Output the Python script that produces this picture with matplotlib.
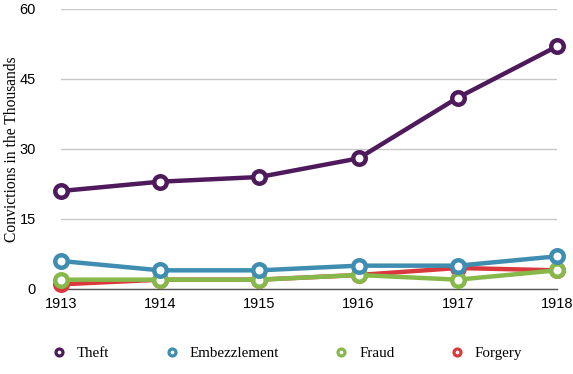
import matplotlib
matplotlib.use("Agg")
import matplotlib.pyplot as plt
from matplotlib.lines import Line2D

years = [1913, 1914, 1915, 1916, 1917, 1918]
theft = [21, 23, 24, 28, 41, 52]
embezzlement = [6, 4, 4, 5, 5, 7]
fraud = [2, 2, 2, 3, 2, 4]
forgery = [1, 2, 2, 3, 4.5, 4]
series_names = ["Theft", "Embezzlement", "Fraud", "Forgery"]
colors = ["#4e1a5c", "#3f8db0", "#86b94a", "#d9383c"]
yticks = [0, 15, 30, 45, 60]

fig = plt.figure(figsize=(5.73, 3.74), dpi=100)
ax = fig.add_axes([61/573, 1-289/374, (557-61)/573, 280/374])

data = {"Theft": theft, "Embezzlement": embezzlement, "Fraud": fraud, "Forgery": forgery}
order = ["Forgery", "Fraud", "Embezzlement", "Theft"]
for name in order:
    c = colors[series_names.index(name)]
    ax.plot(years, data[name], color=c, lw=3.2, marker="o", ms=9,
            mfc="white", mec=c, mew=3.2, clip_on=False, zorder=3)

ax.set_xlim(1913, 1918)
ax.set_ylim(0, 60)
ax.set_yticks(yticks)
ax.set_xticks(years)
ax.grid(axis="y", color="#c8c8c8", lw=1)
ax.set_axisbelow(True)
for s in ["left", "right", "top"]:
    ax.spines[s].set_visible(False)
ax.spines["bottom"].set_color("#555555")
ax.spines["bottom"].set_linewidth(1)
ax.tick_params(length=0, labelsize=10.5, labelfontfamily="Liberation Sans")
ax.tick_params(axis="y", pad=18)
ax.tick_params(axis="x", pad=6)
ax.set_ylabel("Convictions in the Thousands", fontfamily="Liberation Serif", fontsize=11.2)
ax.yaxis.set_label_coords((20-61)/496, 0.5)

handles = [Line2D([], [], color=c, lw=0, marker="o", ms=5, mfc="white", mec=c, mew=2.3)
           for c in colors]
fig.legend(handles, series_names, loc="center", bbox_to_anchor=(285/573, 1-353/374), ncol=4,
           frameon=False, prop={"family": "Liberation Serif", "size": 10.8},
           columnspacing=3.4, handletextpad=0.45, handlelength=1.5,
           borderaxespad=0, borderpad=0)

fig.savefig("out.png", dpi=100)
